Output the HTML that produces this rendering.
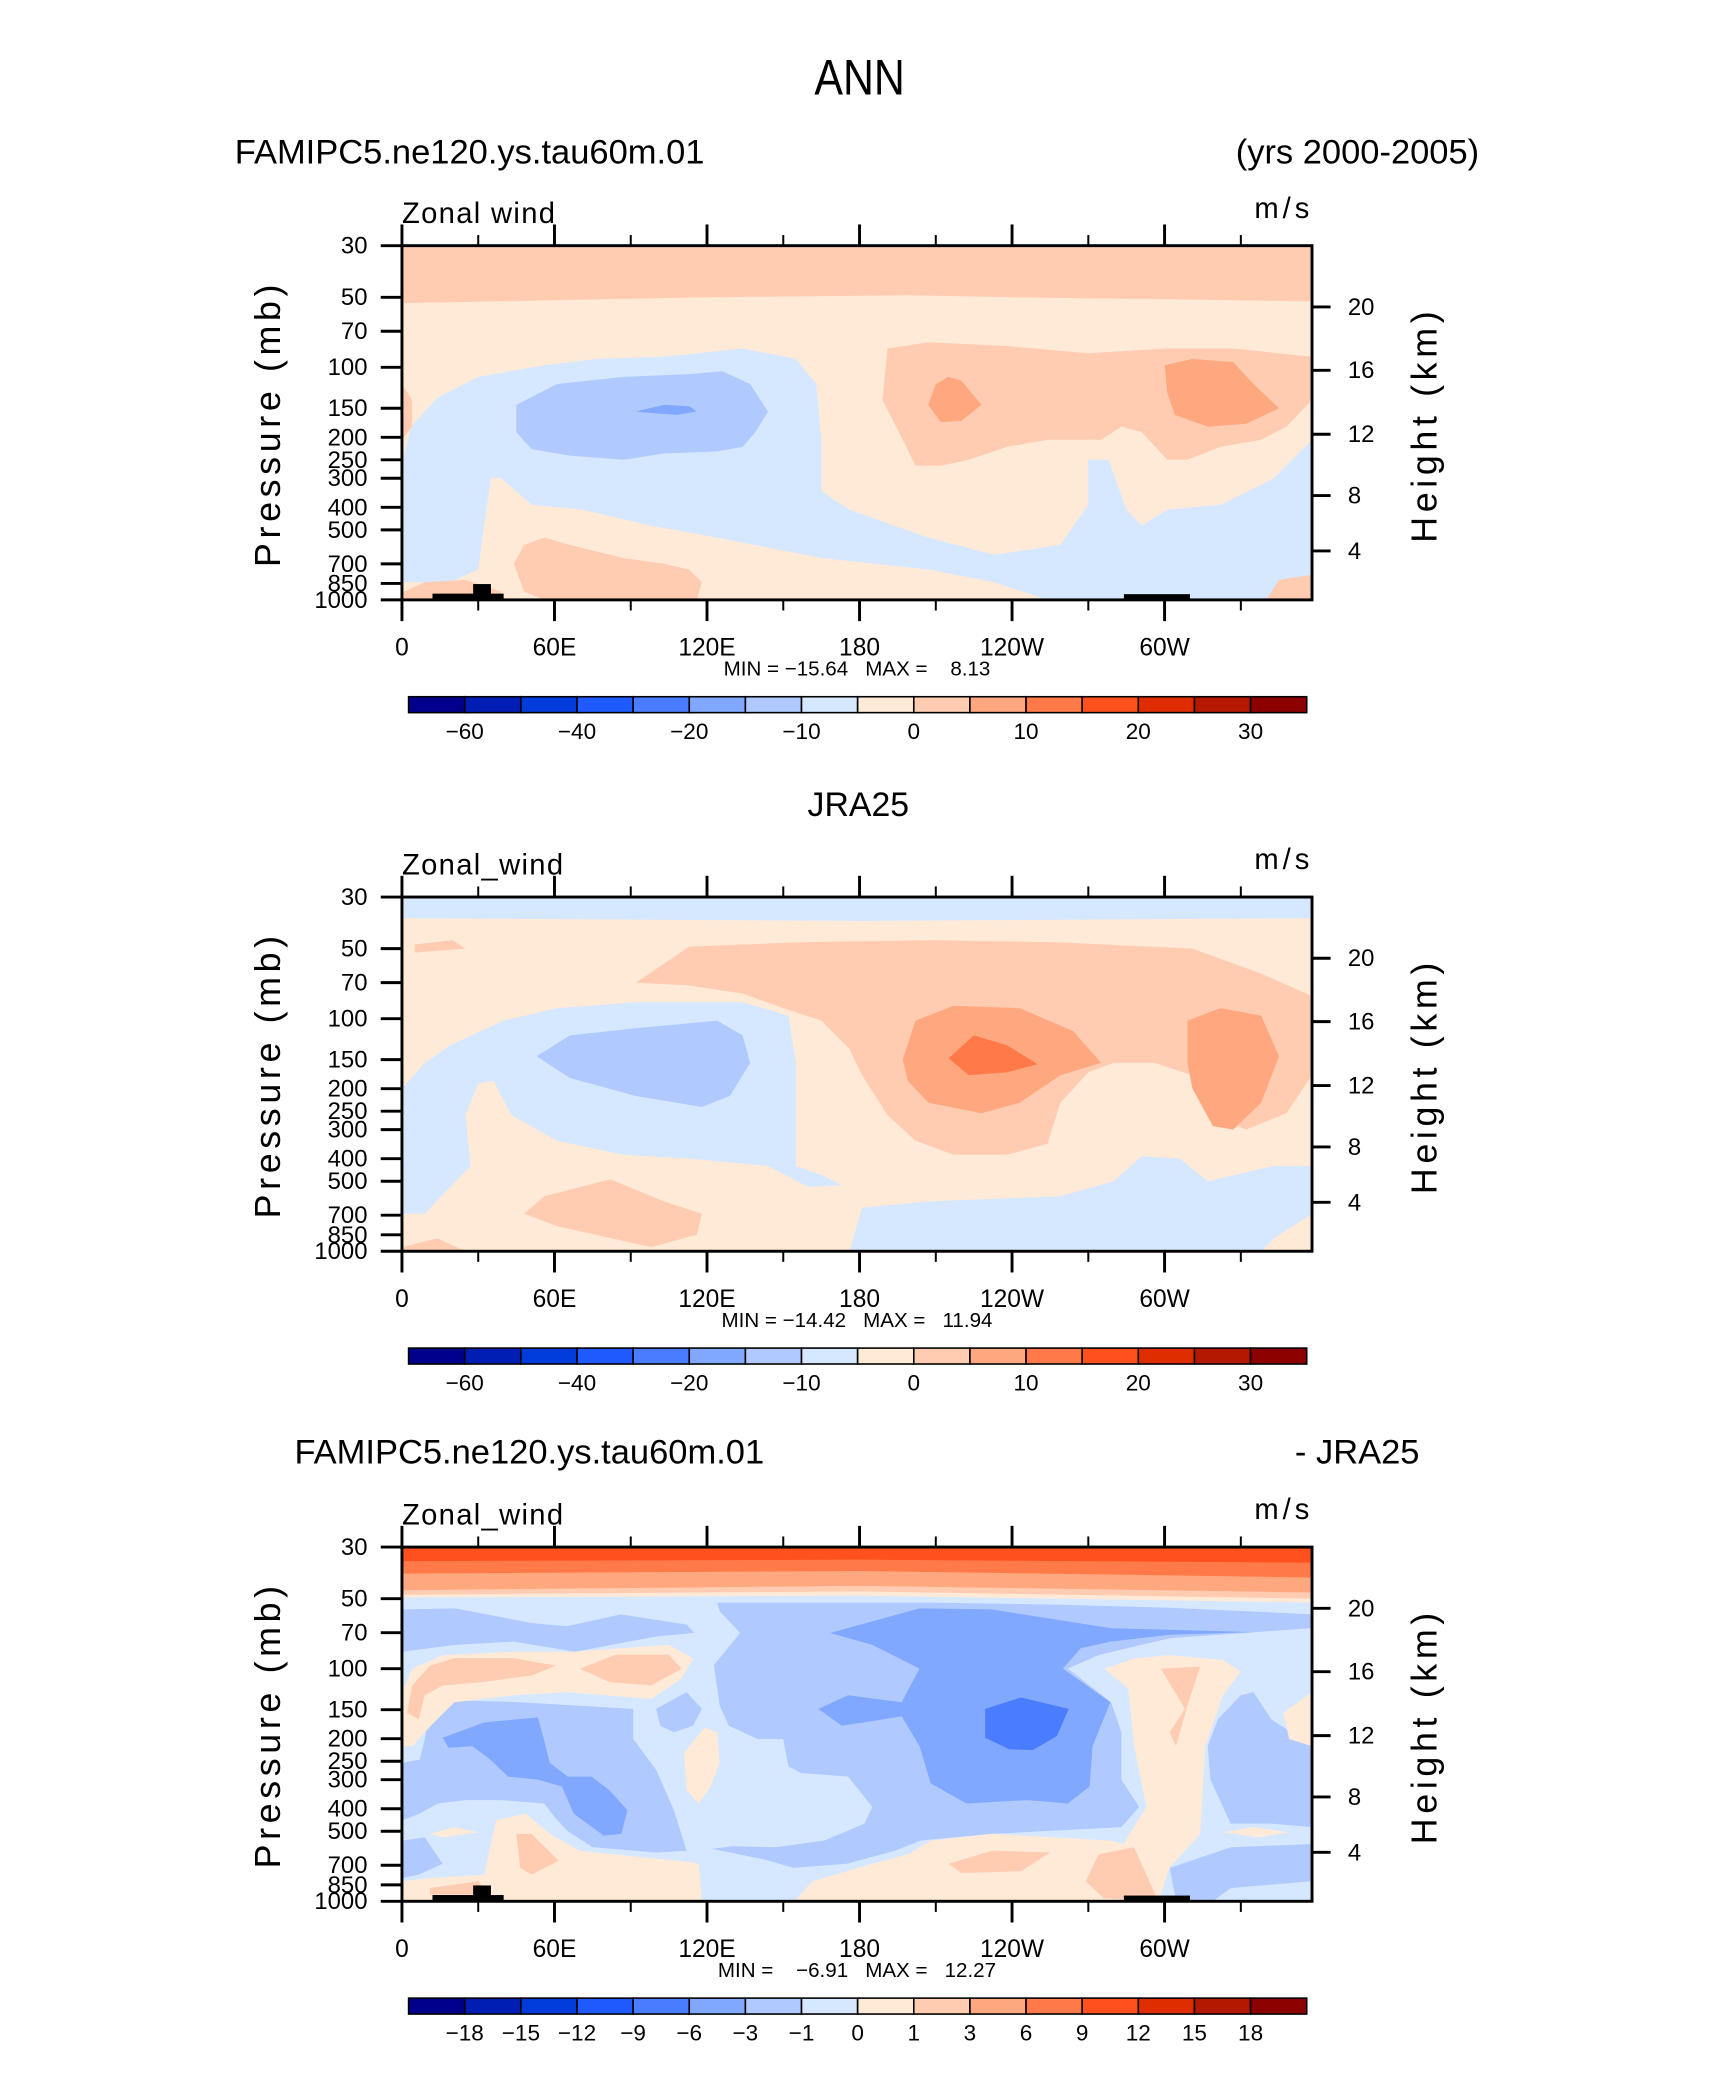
<!DOCTYPE html>
<html><head><meta charset="utf-8"><style>
html,body{margin:0;padding:0;background:#fff;}
svg{display:block;}
text{font-family:"Liberation Sans",sans-serif;fill:#000;}
.pre{white-space:pre;}
</style></head><body>
<svg id="fig" width="1710" height="2074" viewBox="0 0 1289 1563" xmlns="http://www.w3.org/2000/svg">
<rect x="0" y="0" width="1289" height="1563" fill="#fff"/>
<text x="648" y="71" font-size="38" text-anchor="middle" transform="translate(648 0) scale(0.85 1) translate(-648 0)">ANN</text>
<text x="177" y="123" font-size="26">FAMIPC5.ne120.ys.tau60m.01</text>
<text x="1115" y="123" font-size="26" text-anchor="end">(yrs 2000-2005)</text>
<text x="647" y="615" font-size="25.5" text-anchor="middle">JRA25</text>
<text x="222" y="1103" font-size="26">FAMIPC5.ne120.ys.tau60m.01</text>
<text x="1070" y="1103" font-size="26" text-anchor="end">- JRA25</text>
</svg>
<script>
// ---------- data ----------
const palette = ['#00008c','#001eb4','#003cdc','#1e5aff','#4a7cff','#80a8ff','#b0caff','#d6e8ff','#ffead8','#ffccb2','#ffa880','#ff7a48','#ff501e','#e02d00','#b41900','#8c0000'];
const lonTicksMajor = [0,60,120,180,240,300];
const lonTickLabels = ['0','60E','120E','180','120W','60W'];
const lonTicksMinor = [30,90,150,210,270,330];
const presTicks = [30,50,70,100,150,200,250,300,400,500,700,850,1000];
const heightTicks = [20,16,12,8,4];
const heightTickPres = [55,103,194,356,616];
const cbLabelsMain = ['-60','-40','-20','-10','0','10','20','30'];
const cbLabelPosMain = [1,3,5,7,9,11,13,15];
const cbLabelsDiff = ['-18','-15','-12','-9','-6','-3','-1','0','1','3','6','9','12','15','18'];
const cbLabelPosDiff = [1,2,3,4,5,6,7,8,9,10,11,12,13,14,15];
const panelTops = [185,676,1166];
const panelMinMax = ['MIN = \u221215.64   MAX =    8.13','MIN = \u221214.42   MAX =   11.94','MIN =    \u22126.91   MAX =   12.27'];
const panelVarNames = ['Zonal wind','Zonal_wind','Zonal_wind'];
const topoRects = [[12,40,940],[28,35,855],[284,310,945]];

const p1Background = 8;
const p1Regions = [
 [9,[[0,30],[358,30],[358,52],[300,51],[240,50],[200,49],[120,50],[0,53]]],
 [7,[[0,260],[3.6,180],[14,135],[30,110],[56,98],[77,92],[103,90],[134,83],[155,92],[163,118],[165,205],[165,340],[176,410],[207,540],[233,640],[259,580],[270,390],[270,250],[278,250],[285,410],[291,480],[301,410],[322,390],[343,300],[358,205],[358,1000],[254,1000],[233,840],[207,740],[165,660],[124,540],[98,480],[71,410],[51,390],[39,300],[35,300],[32,510],[30,740],[19,840],[0,840]]],
 [6,[[45,145],[61,118],[87,110],[113,107],[126,104],[137,118],[144,155],[139,190],[134,220],[124,230],[103,235],[87,250],[66,240],[51,225],[45,190]]],
 [5,[[92,155],[103,145],[113,147],[116,155],[108,160],[97,157]]],
 [9,[[189,138],[191,83],[207,78],[238,81],[270,87],[301,83],[327,83],[358,90],[358,138],[348,180],[338,205],[322,220],[309,250],[301,250],[291,190],[283,180],[275,205],[254,205],[238,220],[223,250],[212,265],[202,265],[197,205]]],
 [10,[[207,145],[210,118],[215,110],[220,114],[228,145],[220,170],[212,172]]],
 [10,[[300,98],[311,92],[327,95],[335,118],[345,150],[332,175],[317,180],[304,160],[301,128]]],
 [9,[[44,700],[48,580],[56,540],[66,580],[87,660],[103,700],[113,740],[118,840],[116,1000],[56,1000],[48,920]]],
 [9,[[0,930],[9,840],[25,820],[39,920],[39,1000],[0,1000]]],
 [9,[[340,1000],[345,820],[358,780],[358,1000]]],
 [9,[[0,118],[4,138],[4,180],[0,205]]]
];
const p2Background = 8;
const p2Regions = [
 [7,[[0,30],[358,30],[358,37],[180,38],[0,37]]],
 [9,[[5,48],[20,46],[25,50],[5,52]]],
 [9,[[92,70],[113,49],[155,47],[207,46],[259,47],[311,50],[338,64],[358,80],[358,175],[348,255],[332,300],[319,260],[311,175],[296,155],[280,155],[270,170],[259,230],[254,345],[238,385],[217,385],[202,335],[191,260],[181,175],[176,135],[165,102],[150,90],[134,78],[113,72]]],
 [10,[[197,150],[202,102],[217,88],[243,90],[264,113],[275,155],[259,175],[243,230],[228,255],[207,230],[199,185]]],
 [11,[[215,148],[225,118],[238,130],[250,157],[238,170],[223,175]]],
 [10,[[309,102],[322,90],[338,97],[345,145],[338,230],[327,300],[319,290],[311,200],[309,155]]],
 [7,[[0,200],[9,155],[19,130],[40,102],[61,90],[92,85],[134,85],[152,97],[155,155],[155,430],[165,470],[173,520],[160,530],[144,430],[113,400],[87,385],[61,335],[43,260],[36,185],[30,190],[25,260],[27,430],[19,530],[9,690],[0,690]]],
 [6,[[53,145],[66,118],[92,110],[124,102],[134,118],[137,155],[129,215],[118,240],[92,215],[66,180]]],
 [7,[[176,1000],[181,650],[207,610],[259,580],[280,500],[291,390],[306,400],[317,500],[343,430],[358,430],[358,690],[343,880],[338,1000]]],
 [9,[[48,690],[56,580],[82,490],[103,610],[118,690],[116,850],[98,960],[61,780]]],
 [9,[[0,960],[14,880],[25,1000],[0,1000]]]
];
const p3Background = 7;
const p3Regions = [
 [6,[[0,55.6],[21,55],[51,63.6],[65,65.7],[86,58.4],[112,64.6],[115,70.3],[100,72.7],[68,84.5],[44,76.5],[21,79],[0,84.5]]],
 [6,[[11,139],[21,137],[44,139],[91,149],[91,201],[100,272],[107,406],[112,606],[100,617],[75,586],[65,497],[60,434],[56,380],[39,367],[25,367],[14,380],[7,420],[0,449],[0,254],[7,246],[9,201]]],
 [6,[[0,549],[9,531],[16,690],[6.6,768],[0,795]]],
 [6,[[124,52],[208,52],[255,53],[302,54.7],[358,58.4],[358,66.9],[302,74],[274,87.4],[262,99.9],[279,139.5],[283,188],[283,300],[290,393],[283,480],[232,513],[204,549],[194,606],[175,690],[154,718],[143,663],[122,595],[130,580],[147,586],[166,549],[182,464],[185,393],[175.5,291],[157,281],[152,263],[150,201],[140,201],[128.6,176],[125,144],[122.7,96.6],[133,70.3],[125,56.6]]],
 [6,[[317,215],[321,165],[330,130],[335,126],[342,165],[358,215],[358,480],[342,464],[326,464],[318,300]]],
 [6,[[302,718],[326,586],[358,567],[358,820],[326,877],[319,1000],[304.5,1000]]],
 [6,[[100,149],[112,126],[118,149],[114.5,176],[107,188],[101.6,176]]],
 [5,[[168.4,70.3],[185,62.6],[203.6,55],[232,55.6],[278.7,66.9],[335,69.6],[302,71.5],[278.7,76.5],[267,81.7],[260,99.9],[278.7,139.5],[271.7,215],[270.5,321],[262,380],[246,367],[222,380],[208,311],[203.6,215],[196.6,160],[189.6,165],[173,176],[163.8,149],[175.5,130],[196.6,139.5],[203.6,99.9],[185,79]]],
 [5,[[16,198],[32.4,170],[53.5,162],[55.8,201],[58.2,254],[65.2,291],[74.6,291],[81.6,333],[88.7,406],[86.3,513],[79.3,522],[67.6,420],[62.9,321],[53.5,300],[41.8,291],[34.7,246],[27.7,215],[18.3,219]]],
 [4,[[229.4,149],[243.5,133],[262.3,149],[257.6,195],[248.2,224],[238.8,222],[229.4,198]]],
 [8,[[0,126],[4.2,99.9],[16,87.4],[44,84.5],[67.6,84.5],[105,79],[114.5,90.4],[110,110.4],[98,134.9],[65.2,126],[44,130],[20.6,139.5],[11.3,176],[4.2,215],[0,215]]],
 [8,[[276.4,99.9],[288,90.4],[302,87.4],[323,91.9],[330,103],[323,130],[316,215],[314,513],[302,718],[297.5,1000],[285.7,1000],[283,586],[292.8,393],[288,215],[285.7,122]]],
 [8,[[0,1000],[0,820],[11.3,795],[32.4,768],[37,449],[48.8,420],[58.2,513],[70,606],[95.7,650],[109.8,670],[116.8,690],[118,1000]]],
 [8,[[154.4,1000],[161.4,820],[185,690],[199,628],[208,549],[231.8,513],[278.7,549],[288,586],[285.7,1000]]],
 [8,[[111,230],[119,179],[124,188],[125,254],[121.5,321],[116.8,380],[112,333]]],
 [8,[[346.7,155],[358,126],[358,215],[349,201]]],
 [8,[[323,505],[335,480],[349,505],[337,531]]],
 [8,[[11,513],[20.6,480],[30,505],[16,531]]],
 [9,[[2,155],[4,118],[11,97],[20.6,90],[44,90],[60.5,97],[51,107],[32,114],[16,118],[9,130],[6.6,165]]],
 [9,[[70,100],[84,87],[105,87],[110,100],[98,118],[81.6,114]]],
 [9,[[298.6,100],[314,98],[309,144],[304.5,215],[302,188],[308,149]]],
 [9,[[45,513],[51,513],[61.7,670],[51,768],[46.5,718]]],
 [9,[[215,690],[232,606],[255,617],[243.5,743],[220,756]]],
 [9,[[269,820],[274,628],[288,586],[297.5,1000],[276,970]]],
 [9,[[11,877],[30,820],[34.7,937],[11,937]]]
];
// top stratospheric bands in difference panel: [level, pressure at lon 0, 180, 358]
const p3BandLevels = [7,8,9,10,11,12];
const p3BandBottoms = [[51,50,53],[49.5,48.5,52],[48,46.5,50],[46,44,47],[39,38,40.5],[34.5,34,35]];

// ---------- drawing ----------
const svg = document.getElementById('fig');
const NS = 'http://www.w3.org/2000/svg';
const X0 = 303, PW = 686, PH = 267;
function xScale(lon){ return X0 + lon*PW/358; }
function yScale(top,p){ return top + Math.log(p/30)/Math.log(1000/30)*PH; }
function mk(tag, attrs, parent){ const e=document.createElementNS(NS,tag); for(const k in attrs) e.setAttribute(k,attrs[k]); (parent||svg).appendChild(e); return e; }
function txt(str, attrs, parent){ const e=mk('text',attrs,parent); e.textContent=str; return e; }

function drawPanel(i, bg, regions, isDiff){
  const top = panelTops[i];
  const g = mk('g',{});
  
  
  const clipId='clip'+i;
  const cp = mk('clipPath',{id:clipId},g);
  mk('rect',{x:X0,y:top,width:PW,height:PH},cp);
  const plot = mk('g',{'clip-path':'url(#'+clipId+')'},g);
  
  
  const bgr = mk('rect',{x:X0,y:top,width:PW,height:PH,fill:palette[bg]},plot);
  
  
  regions.forEach((r,k)=>{
    const pts = r[1].map(v=>xScale(v[0]).toFixed(1)+','+yScale(top,v[1]).toFixed(1)).join(' ');
    const pg = mk('polygon',{points:pts,fill:palette[r[0]]},plot);
    
    
  });
  if(isDiff){
    p3BandLevels.forEach((lv,k)=>{
      const b=p3BandBottoms[k];
      const pts=[[0,30],[358,30],[358,b[2]],[180,b[1]],[0,b[0]]].map(v=>xScale(v[0]).toFixed(1)+','+yScale(top,v[1]).toFixed(1)).join(' ');
      const pg=mk('polygon',{points:pts,fill:palette[lv]},plot);
      
      
    });
  }
  if(i!==1){
    topoRects.forEach(t=>{
      const r=mk('rect',{x:xScale(t[0]),y:yScale(top,t[2]),width:xScale(t[1])-xScale(t[0]),height:top+PH-yScale(top,t[2]),fill:'#000'},plot);
      
      
    });
  }
  const fr = mk('rect',{x:X0,y:top,width:PW,height:PH,fill:'none',stroke:'#000','stroke-width':2.2},g);
  
  
  lonTicksMajor.forEach((lon,k)=>{
    const x=xScale(lon);
    mk('line',{x1:x,x2:x,y1:top,y2:top-16,stroke:'#000','stroke-width':2.2},g);
    mk('line',{x1:x,x2:x,y1:top+PH,y2:top+PH+16,stroke:'#000','stroke-width':2.2},g);
    const t=txt(lonTickLabels[k],{x:x,y:top+PH+42,'font-size':18.5,'text-anchor':'middle'},g);
    
    
  });
  lonTicksMinor.forEach(lon=>{
    const x=xScale(lon);
    mk('line',{x1:x,x2:x,y1:top,y2:top-8,stroke:'#000','stroke-width':1.5},g);
    mk('line',{x1:x,x2:x,y1:top+PH,y2:top+PH+8,stroke:'#000','stroke-width':1.5},g);
  });
  presTicks.forEach(p=>{
    const y=yScale(top,p);
    mk('line',{x1:X0-16,x2:X0,y1:y,y2:y,stroke:'#000','stroke-width':2.2},g);
    const t=txt(String(p),{x:X0-26,y:y+6,'font-size':18,'text-anchor':'end'},g);
    
    
  });
  heightTicks.forEach((h,k)=>{
    const y=yScale(top,heightTickPres[k]);
    mk('line',{x1:X0+PW,x2:X0+PW+14,y1:y,y2:y,stroke:'#000','stroke-width':2.2},g);
    const t=txt(String(h),{x:X0+PW+27,y:y+6,'font-size':18},g);
    
    
  });
  const yl=txt('Pressure  (mb)',{x:0,y:0,'font-size':27,'text-anchor':'middle','letter-spacing':'3.5',transform:'translate(211 '+(top+134)+') rotate(-90)'},g);
  
  
  const yr=txt('Height  (km)',{x:0,y:0,'font-size':27,'text-anchor':'middle','letter-spacing':'3.5',transform:'translate(1083 '+(top+135)+') rotate(-90)'},g);
  
  
  const vn=txt(panelVarNames[i],{x:X0,y:top-17,'font-size':22,'letter-spacing':'1'},g);
  
  
  const un=txt('m/s',{x:990,y:top-21,'font-size':22,'text-anchor':'end','letter-spacing':'3'},g);
  
  
  const mm=txt(panelMinMax[i],{x:646,y:top+PH+57,'font-size':15.5,'text-anchor':'middle','class':'pre'},g);
  
  
  const cb = mk('g',{},g);
  
  
  const cx0=308, cw=677/16, cy=top+340;
  palette.forEach((c,k)=>{
    const r=mk('rect',{x:cx0+k*cw,y:cy,width:cw,height:12,fill:c,stroke:'#000','stroke-width':1.2},cb);
    
    
  });
  const labs = isDiff?cbLabelsDiff:cbLabelsMain;
  const pos = isDiff?cbLabelPosDiff:cbLabelPosMain;
  labs.forEach((l,k)=>{
    const t=txt(l.replace('-','\u2212'),{x:cx0+pos[k]*cw,y:cy+32,'font-size':17,'text-anchor':'middle'},cb);
    
    
  });
}
drawPanel(0,p1Background,p1Regions,false);
drawPanel(1,p2Background,p2Regions,false);
drawPanel(2,p3Background,p3Regions,true);
</script>
</body></html>
